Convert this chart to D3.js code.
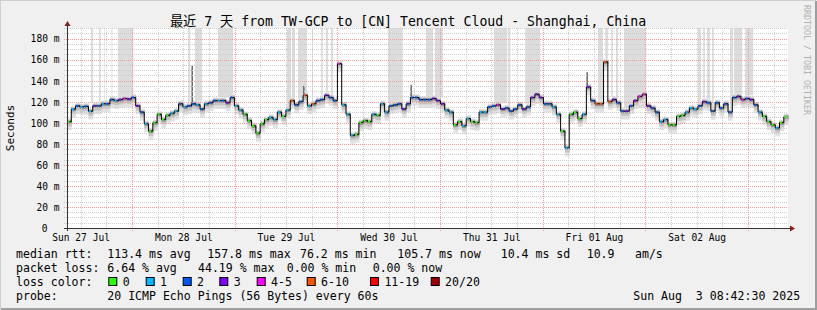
<!DOCTYPE html>
<html>
<head>
<meta charset="utf-8">
<script src="https://cdn.jsdelivr.net/npm/d3@7"></script>
<style>
  html, body { margin: 0; padding: 0; background: #f0f0f0; }
  svg { display: block; font-family: "DejaVu Sans Mono", "Noto Sans CJK SC", monospace; }
</style>
</head>
<body>
<svg width="817" height="310"></svg>
<script>
// время начала и шаг выборки (минуты)
const startTime = Date.UTC(2025, 6, 27, 8, 49);
const endTime = Date.UTC(2025, 7, 3, 9, 21);
const stepMin = 60.2;

// медиана rtt, мс (по часу)
const median = [
  101, 113, 116, 115, 115.5, 111, 116, 116, 118, 118, 122, 121, 122, 123, 122.5, 124, 116, 110, 99, 92,
  100, 108, 103, 107, 109, 111, 118, 115, 116, 118, 117, 113, 118, 119, 121, 121, 121, 119, 124, 116,
  112, 108, 102, 97, 90, 99, 103, 105, 103, 110, 106, 112, 121, 117, 120, 126, 116, 118, 121, 122,
  126, 124, 121, 156, 117, 108, 88, 89, 100, 102, 101, 108, 107, 118, 110, 116, 117, 118, 113, 118,
  124, 124, 122, 122, 122, 123, 121, 118, 112, 110, 98, 101, 97, 104, 101, 100, 110, 110, 115, 116,
  117, 113, 114, 111, 113, 117, 113, 115, 124, 127, 124, 118, 118, 115, 108, 92, 76.2, 108, 110, 104,
  108, 134, 121, 118, 118, 157.8, 120, 122, 119, 111, 111, 116, 121, 125, 127, 116, 114, 110, 101, 103,
  98, 98, 106, 107, 110, 114, 113, 116, 120, 119, 111, 119, 114, 118, 110, 124, 125, 122, 123, 122,
  117, 110, 106, 101, 98, 95, 100, 105.7
];
// потери пакетов из 20
const loss = [
  0, 1, 2, 1, 2, 1, 3, 2, 1, 2, 2, 1, 3, 4, 3, 2, 3, 2, 1, 0,
  0, 0, 0, 0, 1, 1, 2, 1, 2, 2, 1, 2, 1, 2, 2, 1, 2, 3, 2, 1,
  1, 0, 0, 0, 0, 0, 0, 1, 1, 1, 0, 1, 6, 2, 2, 6, 1, 6, 2, 2,
  3, 2, 2, 4, 1, 1, 1, 0, 0, 0, 0, 1, 0, 1, 1, 2, 2, 2, 3, 2,
  2, 2, 2, 2, 2, 3, 3, 3, 1, 1, 0, 0, 1, 1, 0, 0, 1, 1, 2, 2,
  4, 3, 2, 2, 2, 2, 3, 2, 3, 3, 3, 2, 2, 1, 1, 0, 1, 0, 0, 0,
  1, 3, 2, 6, 6, 6, 6, 3, 2, 2, 3, 2, 3, 4, 4, 3, 2, 2, 1, 1,
  0, 0, 0, 0, 1, 1, 1, 2, 3, 2, 2, 2, 2, 2, 2, 2, 3, 4, 2, 3,
  2, 1, 0, 0, 0, 1, 0, 0
];
// серые полосы потерь (часы от начала)
const lossBands = [
  [5.6, 6.1], [7.5, 7.9], [8.6, 8.8], [10.4, 10.6], [11.9, 15.5], [28.3, 28.8], [29.9, 31.6],
  [35.3, 38.8], [51.4, 52.4], [52.6, 53.3], [54.0, 56.1], [57.3, 57.5], [59.4, 59.8], [60.5, 61.0],
  [61.7, 62.2], [75.0, 78.5], [83.9, 85.6], [86.0, 87.9], [99.8, 102.9], [103.1, 103.6], [107.1, 110.6],
  [124.1, 125.3], [125.8, 126.5], [127.2, 127.6], [128.3, 128.8], [130.2, 135.3], [147.5, 148.2],
  [148.7, 149.1], [149.6, 150.3], [150.8, 151.2], [155.0, 155.7], [155.9, 157.8], [158.5, 160.4]
];
// выбросы дыма: индекс выборки и верхнее значение
const smokeSpikes = [[29, 154], [55, 135], [80, 136], [121, 148]];

const dayLabels = ["Sun 27 Jul", "Mon 28 Jul", "Tue 29 Jul", "Wed 30 Jul", "Thu 31 Jul", "Fri 01 Aug", "Sat 02 Aug"];
const yTicks = [0, 20, 40, 60, 80, 100, 120, 140, 160, 180];
const lossNames = ["0", "1", "2", "3", "4-5", "6-10", "11-19", "20/20"];
const lossColors = ["#26ff00", "#00b8ff", "#0059ff", "#7e00ff", "#ff00ff", "#ff5500", "#ff0000", "#a10000"];

function lossClass(n) {
  if (n <= 3) return n;
  if (n <= 5) return 4;
  if (n <= 10) return 5;
  if (n <= 19) return 6;
  return 7;
}

const svg = d3.select("svg");
const area = { left: 67, right: 788, top: 28, bottom: 228 };

// рамка
svg.append("rect").attr("width", 817).attr("height", 310).attr("fill", "#f0f0f0");
svg.append("path").attr("d", "M0,309 V0 H816").attr("fill", "none").attr("stroke", "#cfcfcf").attr("stroke-width", 2);
svg.append("path").attr("d", "M1,309 H816 V1").attr("fill", "none").attr("stroke", "#9e9e9e").attr("stroke-width", 2);

const x = d3.scaleUtc().domain([new Date(startTime), new Date(endTime)]).range([area.left, area.right]);
const y = d3.scaleLinear().domain([0, 190]).range([area.bottom, area.top]);

const samples = median.map((v, i) => ({ t: new Date(startTime + i * stepMin * 60000), v: v, loss: loss[i] }));
const stepW = x(samples[1].t) - x(samples[0].t);

svg.append("rect")
  .attr("x", area.left).attr("y", area.top)
  .attr("width", area.right - area.left).attr("height", area.bottom - area.top)
  .attr("fill", "#ffffff");

// полосы потерь
svg.append("g").selectAll("rect")
  .data(lossBands)
  .enter()
  .append("rect")
  .attr("x", d => x(new Date(startTime + d[0] * 3600000)))
  .attr("width", d => x(new Date(startTime + d[1] * 3600000)) - x(new Date(startTime + d[0] * 3600000)))
  .attr("y", area.top)
  .attr("height", d => {
    const idx = Math.max(0, Math.min(median.length - 1, Math.round(d[0] * 60 / stepMin)));
    return y(median[idx] + 3) - area.top;
  })
  .attr("fill", "#dcdcdc");

// дым: слои от светлого к тёмному
const smoke = svg.append("g");
const layers = [[3, 8, "#e2e2e2"], [2, 4.5, "#c4c4c4"], [1, 2, "#949494"]];
layers.forEach((ly, k) => {
  smoke.selectAll(".s" + k).data(samples).enter().append("rect")
    .attr("x", d => x(d.t)).attr("width", stepW + 0.5)
    .attr("y", d => y(d.v + ly[0])).attr("height", d => y(d.v - ly[1]) - y(d.v + ly[0]))
    .attr("fill", ly[2]);
});
smoke.selectAll(".sp").data(smokeSpikes).enter().append("rect")
  .attr("x", d => x(samples[d[0]].t)).attr("width", 1.5)
  .attr("y", d => y(d[1])).attr("height", d => y(median[d[0]]) - y(d[1]))
  .attr("fill", "#666");

// сетка
const grid = svg.append("g");
d3.range(5, 191, 5).forEach(v => {
  const major = v % 20 === 0;
  grid.append("line")
    .attr("x1", area.left - 3).attr("x2", area.right)
    .attr("y1", Math.round(y(v)) + 0.5).attr("y2", Math.round(y(v)) + 0.5)
    .attr("stroke", major ? "#f09c9c" : "#cccccc")
    .attr("stroke-dasharray", "1,1");
});
d3.utcHour.every(6).range(new Date(startTime), new Date(endTime)).forEach(t => {
  const major = t.getUTCHours() === 0;
  grid.append("line")
    .attr("x1", Math.round(x(t)) + 0.5).attr("x2", Math.round(x(t)) + 0.5)
    .attr("y1", area.top).attr("y2", area.bottom + 3)
    .attr("stroke", major ? "#f09c9c" : "#cccccc")
    .attr("stroke-dasharray", "1,1");
});

// медиана
const line = d3.line().x(d => x(d.t)).y(d => y(d.v)).curve(d3.curveStepAfter);
svg.append("path").datum(samples)
  .attr("d", line)
  .attr("fill", "none").attr("stroke", "#000").attr("stroke-width", 1);
svg.append("g").selectAll("rect").data(samples).enter().append("rect")
  .attr("x", d => x(d.t) + 0.5).attr("width", 2)
  .attr("y", d => y(d.v) - 1).attr("height", 2)
  .attr("fill", d => lossColors[lossClass(d.loss)]);

// оси
const axisX = d3.axisBottom(x)
  .tickValues(dayLabels.map((d, i) => new Date(Date.UTC(2025, 6, 27 + i, 12))))
  .tickFormat((d, i) => dayLabels[i])
  .tickSize(0);
const gx = svg.append("g")
  .attr("transform", `translate(0, ${area.bottom})`)
  .call(axisX);
gx.select(".domain").remove();
gx.selectAll("text").attr("dy", 0).attr("y", 13).attr("font-size", "9.6px")
  .attr("font-family", "DejaVu Sans Mono").attr("fill", "#000");

const axisY = d3.axisLeft(y)
  .tickValues(yTicks)
  .tickFormat(d => d === 0 ? "0" : d + " m")
  .tickSize(0);
const gy = svg.append("g")
  .attr("transform", `translate(${area.left - 7.5}, 0)`)
  .call(axisY);
gy.select(".domain").remove();
gy.selectAll("text").attr("font-size", "9.6px").attr("font-family", "DejaVu Sans Mono").attr("fill", "#000")
  .attr("x", d => d === 0 ? -12 : 0).attr("dy", "0.35em");

svg.append("line").attr("x1", area.left - 3).attr("x2", area.right + 2)
  .attr("y1", area.bottom + 0.5).attr("y2", area.bottom + 0.5).attr("stroke", "#333");
svg.append("line").attr("x1", area.left + 0.5).attr("x2", area.left + 0.5)
  .attr("y1", area.bottom + 3).attr("y2", area.top - 4).attr("stroke", "#333");
svg.append("path").attr("d", `M${area.left - 2.5},${area.top - 2} L${area.left + 3.5},${area.top - 2} L${area.left + 0.5},${area.top - 7} Z`)
  .attr("fill", "#8b1a1a");
svg.append("path").attr("d", `M${area.right + 2},${area.bottom - 2.5} L${area.right + 2},${area.bottom + 3.5} L${area.right + 7},${area.bottom + 0.5} Z`)
  .attr("fill", "#8b1a1a");

// заголовок и подписи
svg.append("text").attr("x", 408).attr("y", 26).attr("text-anchor", "middle")
  .attr("font-size", "13.2px").text("最近 7 天 from TW-GCP to [CN] Tencent Cloud - Shanghai, China");
svg.append("text").attr("transform", "translate(14, 128) rotate(-90)").attr("text-anchor", "middle")
  .attr("font-size", "11px").text("Seconds");
svg.append("text").attr("transform", "translate(804, 5) rotate(90)")
  .attr("font-size", "8.3px").attr("fill", "#b0b0b0").text("RRDTOOL / TOBI OETIKER");

// легенда
const legendRows = [
  [258, [[16, "median rtt:"], [107.3, "113.4 ms avg"], [207.3, "157.8 ms max"], [300, "76.2 ms min"], [397.3, "105.7 ms now"], [500.7, "10.4 ms sd"], [586.7, "10.9"], [635, "am/s"]]],
  [272, [[16, "packet loss:"], [107.3, "6.64 % avg"], [198, "44.19 % max"], [286.7, "0.00 % min"], [372.7, "0.00 % now"]]],
  [286, [[16, "loss color:"]]],
  [300, [[16, "probe:"], [107.3, "20 ICMP Echo Pings (56 Bytes) every 60s"], [633.3, "Sun Aug  3 08:42:30 2025"]]]
];
legendRows.forEach(row => {
  svg.append("g").selectAll("text").data(row[1]).enter().append("text")
    .attr("x", d => d[0]).attr("y", row[0])
    .attr("font-size", "11.55px").attr("fill", "#000")
    .style("white-space", "pre")
    .text(d => d[1]);
});
const boxX = [108.3, 145.7, 182.7, 219.3, 256.7, 306.7, 370, 430.7];
const lg = svg.append("g").selectAll("g").data(lossNames).enter().append("g");
lg.append("rect")
  .attr("x", (d, i) => boxX[i] + 0.5).attr("y", 277.5)
  .attr("width", 8).attr("height", 8)
  .attr("fill", (d, i) => lossColors[i]).attr("stroke", "#000");
lg.append("text")
  .attr("x", (d, i) => boxX[i] + 14.4).attr("y", 286)
  .attr("font-size", "11.55px")
  .text(d => d);
</script>
</body>
</html>
